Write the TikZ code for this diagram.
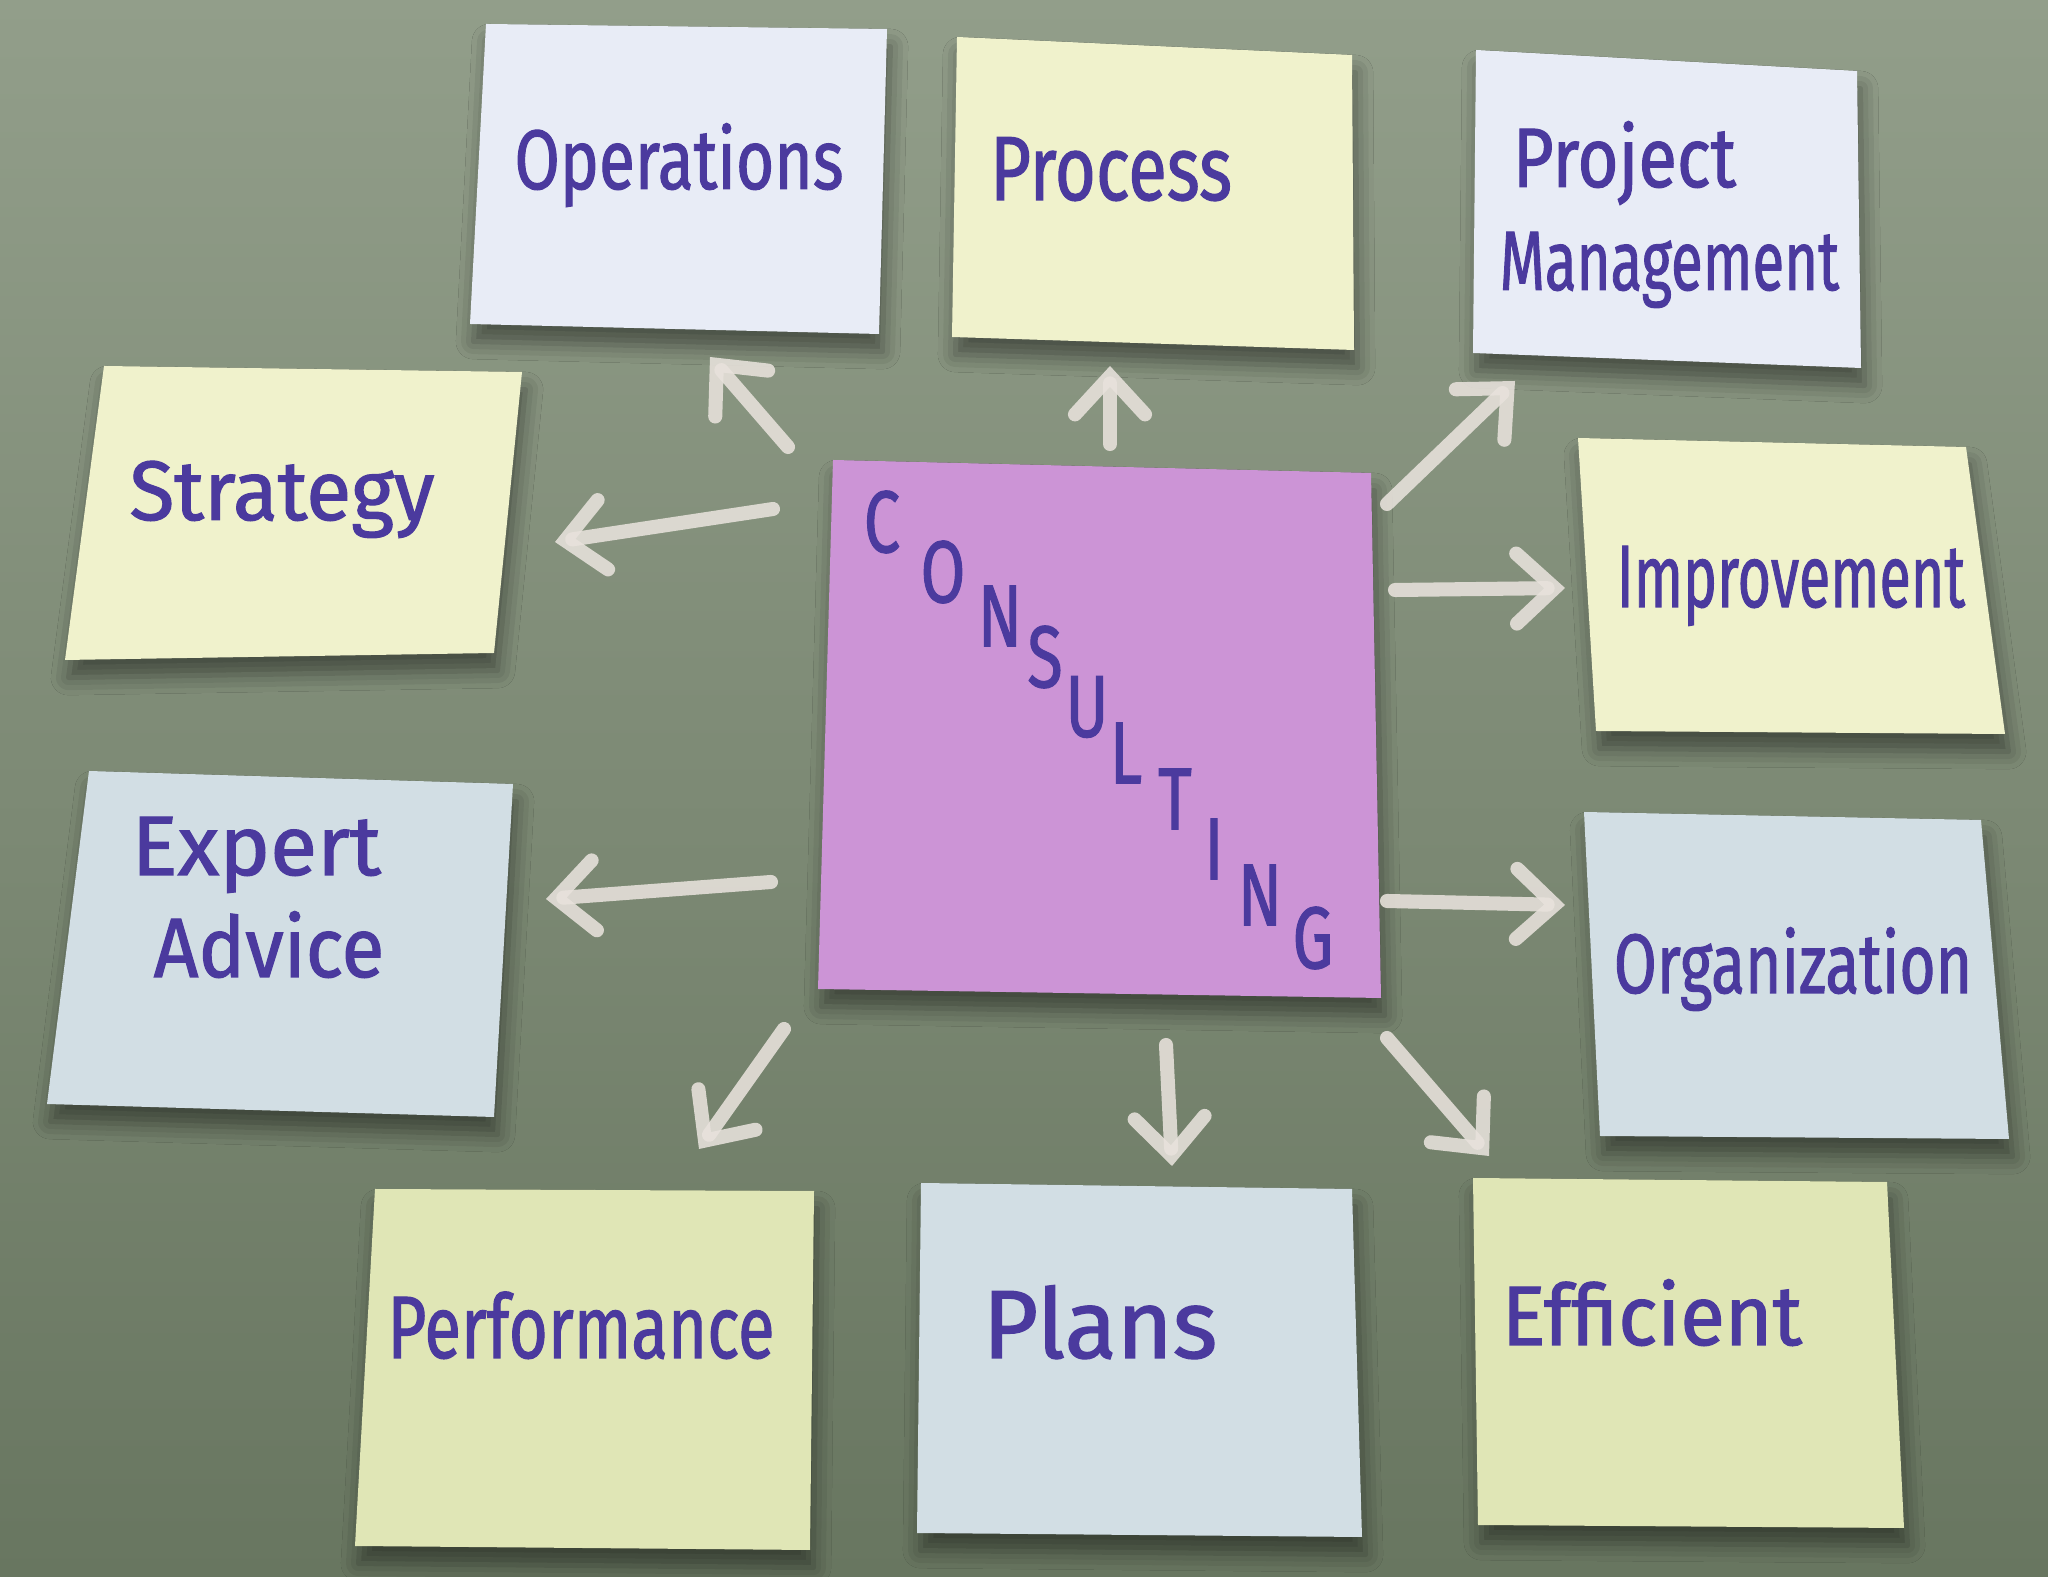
\documentclass[tikz,border=0pt]{standalone}
\usepackage{fontspec}
\setmainfont[FakeStretch=0.82,FakeBold=1.2]{Fira Sans}
\usetikzlibrary{arrows.meta,shadows.blur}
\definecolor{boardtop}{RGB}{146,158,138}
\definecolor{boardbot}{RGB}{104,118,96}
\definecolor{bluewhite}{RGB}{232,236,246}
\definecolor{bluegray}{RGB}{210,222,228}
\definecolor{yellowA}{RGB}{240,242,204}
\definecolor{yellowB}{RGB}{224,230,182}
\definecolor{pinknote}{RGB}{204,148,214}
\definecolor{ink}{RGB}{75,58,158}
\definecolor{chalk}{RGB}{232,226,220}
\newcommand\hsq[3][1]{\scalebox{#2}[#1]{#3}}
\tikzset{
  note/.style={fill=#1, blur shadow={shadow xshift=1pt, shadow yshift=-5pt, shadow opacity=45, shadow blur radius=5pt}},
  lbl/.style={font=\fontsize{24}{29.6}\selectfont, text=ink, anchor=base, inner sep=0pt},
  letter/.style={font=\fontsize{25}{30}\selectfont, text=ink, anchor=center, inner sep=0pt},
  chalkarrow/.style={draw=chalk, opacity=0.88, line width=4pt, line cap=round,
    -{Straight Barb[length=3.8mm,width=7mm,line cap=round]}}
}
\begin{document}
\begin{tikzpicture}[x=0.01cm,y=-0.01cm]
\useasboundingbox (0,0) rectangle (2048,1577);
\shade[top color=boardtop,bottom color=boardbot] (0,0) rectangle (2048,1577);

% notes
\fill[note=bluewhite] (486,24) -- (887,29) -- (879,334) -- (470,324) -- cycle;
\fill[note=yellowA] (957,37) -- (1352,55) -- (1354,350) -- (952,337) -- cycle;
\fill[note=bluewhite] (1476,50) -- (1857,71) -- (1861,368) -- (1473,353) -- cycle;
\fill[note=yellowA] (104,366) -- (522,372) -- (494,653) -- (65,660) -- cycle;
\fill[note=yellowA] (1578,438) -- (1966,447) -- (2005,734) -- (1596,731) -- cycle;
\fill[note=pinknote] (833,460) -- (1371,473) -- (1381,998) -- (818,989) -- cycle;
\fill[note=bluegray] (89,771) -- (513,784) -- (494,1117) -- (47,1104) -- cycle;
\fill[note=bluegray] (1584,812) -- (1981,820) -- (2009,1139) -- (1600,1136) -- cycle;
\fill[note=yellowB] (375,1189) -- (814,1191) -- (810,1550) -- (355,1546) -- cycle;
\fill[note=bluegray] (921,1183) -- (1352,1189) -- (1362,1537) -- (917,1533) -- cycle;
\fill[note=yellowB] (1473,1178) -- (1887,1182) -- (1904,1528) -- (1478,1525) -- cycle;

% labels
\node[lbl] (ops) at (679,189) {\hsq{0.95}{Operations}};
\node[lbl] (proc) at (1111,200) {\hsq[1.08]{1.02}{Process}};
\node[lbl, anchor=base west] (proj1) at (1512,187) {\hsq{1.02}{Project}};
\node[lbl, anchor=base west] (proj2) at (1499,290) {\hsq{0.84}{Management}};
\node[lbl] (strat) at (282,520) {\hsq{1.19}{Strategy}};
\node[lbl] (impr) at (1791,607) {\hsq[1.05]{0.83}{Improvement}};
\node[lbl, anchor=base west] (exp1) at (131,875) {\hsq{1.24}{Expert}};
\node[lbl, anchor=base west] (exp2) at (153,977) {\hsq{1.13}{Advice}};
\node[lbl] (org) at (1793,993) {\hsq{0.90}{Organization}};
\node[lbl] (perf) at (581,1358) {\hsq[1.05]{0.97}{Performance}};
\node[lbl] (plans) at (1100,1358) {\hsq[1.15]{1.38}{Plans}};
\node[lbl] (eff) at (1652,1345) {\hsq{1.18}{Efficient}};

% CONSULTING
\node[letter] (c1) at (882,522) {\hsq{0.9}{C}};
\node[letter] (c2) at (943,572) {\hsq{0.9}{O}};
\node[letter] (c3) at (1000,616) {\hsq{0.9}{N}};
\node[letter] (c4) at (1045,657) {\hsq{0.9}{S}};
\node[letter] (c5) at (1087,707) {\hsq{0.9}{U}};
\node[letter] (c6) at (1126,753) {\hsq{0.9}{L}};
\node[letter] (c7) at (1175,799) {\hsq{0.9}{T}};
\node[letter] (c8) at (1214,849) {\hsq{0.9}{I}};
\node[letter] (c9) at (1260,895) {\hsq{0.9}{N}};
\node[letter] (c10) at (1313,938) {\hsq{0.9}{G}};

% arrow end points
\coordinate (t1) at (788,447);  \coordinate (h1) at (710,357);
\coordinate (t2) at (1110,444); \coordinate (h2) at (1110,366);
\coordinate (t3) at (1387,504); \coordinate (h3) at (1515,381);
\coordinate (t4) at (773,509);  \coordinate (h4) at (555,542);
\coordinate (t5) at (1395,590); \coordinate (h5) at (1565,588);
\coordinate (t6) at (771,882);  \coordinate (h6) at (546,899);
\coordinate (t7) at (1387,901); \coordinate (h7) at (1565,905);
\coordinate (t8) at (784,1029); \coordinate (h8) at (699,1149);
\coordinate (t9) at (1166,1045); \coordinate (h9) at (1172,1166);
\coordinate (t10) at (1387,1038); \coordinate (h10) at (1489,1156);

\foreach \i in {1,...,10} \draw[chalkarrow] (t\i) -- (h\i);
\end{tikzpicture}
\end{document}
